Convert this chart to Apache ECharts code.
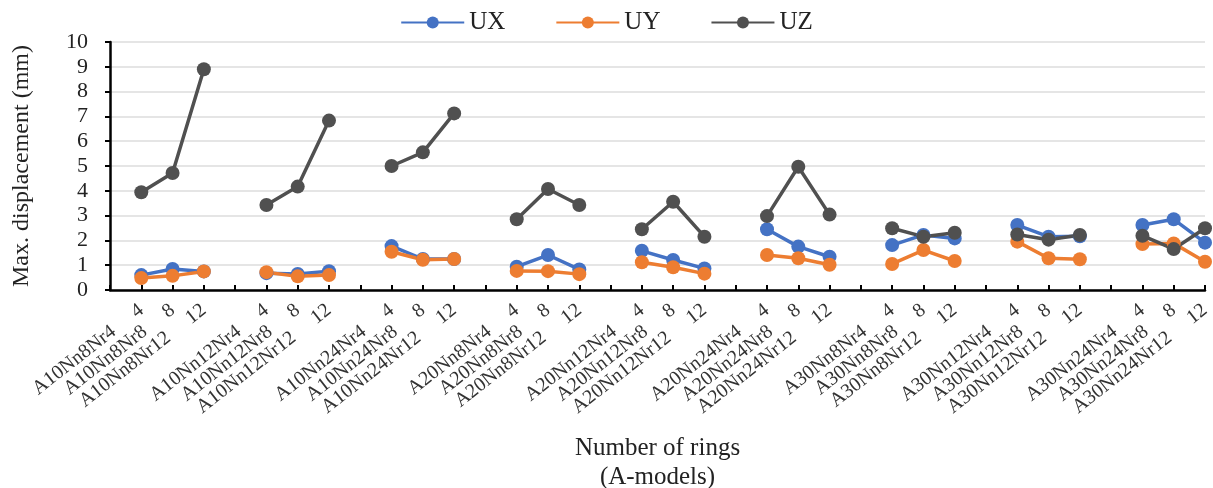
<!DOCTYPE html>
<html>
<head>
<meta charset="utf-8">
<script src="https://cdn.jsdelivr.net/npm/echarts@6/dist/echarts.min.js"></script>
<style>
html,body{margin:0;padding:0;background:#fff;}
#chart{width:1213px;height:488px;}
</style>
</head>
<body>
<div id="chart"></div>
<script>
// Model groups (A-models) and ring counts
const groups = ['A10Nn8', 'A10Nn12', 'A10Nn24', 'A20Nn8', 'A20Nn12', 'A20Nn24', 'A30Nn8', 'A30Nn12', 'A30Nn24'];
const rings = ['4', '8', '12'];

// Max. displacement (mm), 3 values per group (Nr4, Nr8, Nr12)
const UX = [0.60, 0.85, 0.75,  0.68, 0.65, 0.76,  1.77, 1.25, 1.25,
            0.94, 1.41, 0.83,  1.58, 1.21, 0.87,  2.45, 1.75, 1.34,
            1.81, 2.22, 2.08,  2.62, 2.15, 2.17,  2.62, 2.85, 1.91];
const UY = [0.48, 0.57, 0.75,  0.72, 0.55, 0.60,  1.54, 1.22, 1.25,
            0.77, 0.76, 0.64,  1.12, 0.92, 0.66,  1.41, 1.28, 1.02,
            1.05, 1.61, 1.17,  1.95, 1.28, 1.24,  1.85, 1.88, 1.14];
const UZ = [3.94, 4.72, 8.90,  3.43, 4.17, 6.83,  5.00, 5.55, 7.12,
            2.85, 4.07, 3.43,  2.45, 3.56, 2.15,  2.98, 4.97, 3.04,
            2.49, 2.15, 2.31,  2.24, 2.03, 2.22,  2.19, 1.65, 2.49];

const yTicks = [0, 1, 2, 3, 4, 5, 6, 7, 8, 9, 10];

// Build category axis with a blank slot before each group
const cats = [];
const ringLab = [];
groups.forEach(g => {
  cats.push(''); ringLab.push('');
  rings.forEach(r => { cats.push(g + 'Nr' + r); ringLab.push(r); });
});
function withGaps(arr) {
  const out = [];
  groups.forEach((g, gi) => {
    out.push(null);
    for (let k = 0; k < 3; k++) out.push(arr[gi * 3 + k]);
  });
  return out;
}

const serif = '"Liberation Serif", "Times New Roman", serif';
const colors = {UX: '#4472C4', UY: '#ED7D31', UZ: '#505050'};

function mk(name, arr) {
  return {
    name: name,
    type: 'line',
    data: withGaps(arr),
    connectNulls: false,
    symbol: 'circle',
    symbolSize: 14,
    lineStyle: {width: 3.5, color: colors[name]},
    itemStyle: {color: colors[name]},
    z: 3
  };
}

const chart = echarts.init(document.getElementById('chart'), null, {renderer: 'canvas'});
chart.setOption({
  animation: false,
  backgroundColor: '#ffffff',
  color: [colors.UX, colors.UY, colors.UZ],
  legend: {
    top: 5,
    left: 'center',
    itemWidth: 63,
    itemHeight: 15,
    itemGap: 50,
    textStyle: {fontFamily: serif, fontSize: 25, color: '#222'},
    data: ['UX', 'UY', 'UZ']
  },
  grid: {left: 110, right: 8, top: 42, bottom: 198, containLabel: false, outerBoundsMode: 'none'},
  xAxis: {
    type: 'category',
    data: cats,
    boundaryGap: false,
    axisLine: {lineStyle: {color: '#000', width: 2.5}},
    axisTick: {show: true, inside: true, length: 5, interval: 0, lineStyle: {color: '#000', width: 2}},
    axisLabel: {
      interval: 0,
      rotate: 38,
      margin: 18,
      fontFamily: serif,
      fontSize: 20,
      color: '#333',
      formatter: function (v, i) {
        return v ? v + '     ' + ringLab[i] : '';
      }
    },
    name: 'Number of rings\n(A-models)',
    nameLocation: 'middle',
    nameGap: 144,
    nameTextStyle: {fontFamily: serif, fontSize: 25, color: '#222', lineHeight: 29}
  },
  yAxis: {
    type: 'value',
    min: 0,
    max: 10,
    interval: 1,
    axisLine: {show: true, lineStyle: {color: '#000', width: 2.5}},
    axisTick: {show: true, length: 5, lineStyle: {color: '#000', width: 2}},
    axisLabel: {
      fontFamily: serif, fontSize: 22, color: '#222', margin: 22,
      formatter: function (v) { return yTicks.indexOf(v) >= 0 ? String(v) : ''; }
    },
    splitLine: {lineStyle: {color: '#dcdcdc', width: 1.5}},
    name: 'Max. displacement (mm)',
    nameLocation: 'middle',
    nameGap: 76,
    nameTextStyle: {fontFamily: serif, fontSize: 24, color: '#222'}
  },
  series: [mk('UX', UX), mk('UY', UY), mk('UZ', UZ)]
});
</script>
</body>
</html>
